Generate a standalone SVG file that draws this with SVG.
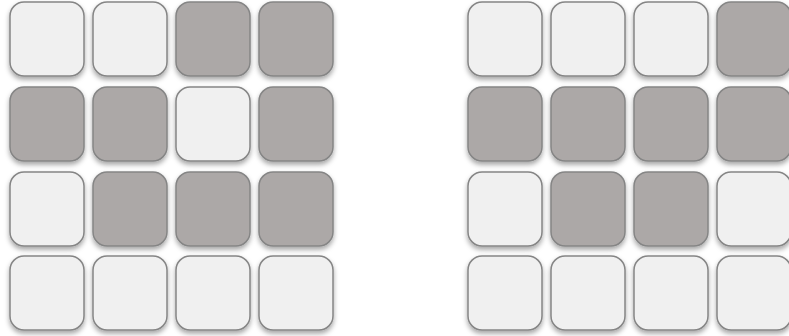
<svg xmlns="http://www.w3.org/2000/svg" width="789" height="336" viewBox="0 0 789 336">
<defs>
<filter id="sh" x="-20%" y="-20%" width="140%" height="150%">
<feDropShadow dx="0" dy="3" stdDeviation="2.5" flood-color="#000" flood-opacity="0.35"/>
</filter>
<style>
.c{stroke:#858585;stroke-width:1.5;filter:url(#sh)}
.l{fill:#f0f0f0}
.d{fill:#aca8a7}
</style>
</defs>
<rect width="789" height="336" fill="#ffffff"/>
<g id="left-grid">
<rect class="c l" x="10" y="2" width="74" height="74" rx="14"/>
<rect class="c l" x="93" y="2" width="74" height="74" rx="14"/>
<rect class="c d" x="176" y="2" width="74" height="74" rx="14"/>
<rect class="c d" x="259" y="2" width="74" height="74" rx="14"/>
<rect class="c d" x="10" y="87" width="74" height="74" rx="14"/>
<rect class="c d" x="93" y="87" width="74" height="74" rx="14"/>
<rect class="c l" x="176" y="87" width="74" height="74" rx="14"/>
<rect class="c d" x="259" y="87" width="74" height="74" rx="14"/>
<rect class="c l" x="10" y="172" width="74" height="74" rx="14"/>
<rect class="c d" x="93" y="172" width="74" height="74" rx="14"/>
<rect class="c d" x="176" y="172" width="74" height="74" rx="14"/>
<rect class="c d" x="259" y="172" width="74" height="74" rx="14"/>
<rect class="c l" x="10" y="256" width="74" height="74" rx="14"/>
<rect class="c l" x="93" y="256" width="74" height="74" rx="14"/>
<rect class="c l" x="176" y="256" width="74" height="74" rx="14"/>
<rect class="c l" x="259" y="256" width="74" height="74" rx="14"/>
</g>
<g id="right-grid">
<rect class="c l" x="468" y="2" width="74" height="74" rx="14"/>
<rect class="c l" x="551" y="2" width="74" height="74" rx="14"/>
<rect class="c l" x="634" y="2" width="74" height="74" rx="14"/>
<rect class="c d" x="717" y="2" width="74" height="74" rx="14"/>
<rect class="c d" x="468" y="87" width="74" height="74" rx="14"/>
<rect class="c d" x="551" y="87" width="74" height="74" rx="14"/>
<rect class="c d" x="634" y="87" width="74" height="74" rx="14"/>
<rect class="c d" x="717" y="87" width="74" height="74" rx="14"/>
<rect class="c l" x="468" y="172" width="74" height="74" rx="14"/>
<rect class="c d" x="551" y="172" width="74" height="74" rx="14"/>
<rect class="c d" x="634" y="172" width="74" height="74" rx="14"/>
<rect class="c l" x="717" y="172" width="74" height="74" rx="14"/>
<rect class="c l" x="468" y="256" width="74" height="74" rx="14"/>
<rect class="c l" x="551" y="256" width="74" height="74" rx="14"/>
<rect class="c l" x="634" y="256" width="74" height="74" rx="14"/>
<rect class="c l" x="717" y="256" width="74" height="74" rx="14"/>
</g>
</svg>
